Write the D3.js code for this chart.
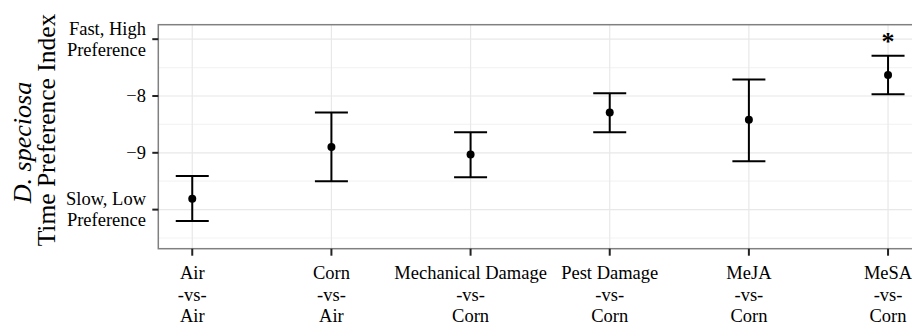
<!DOCTYPE html>
<html>
<head>
<meta charset="utf-8">
<script src="https://cdn.jsdelivr.net/npm/d3@7"></script>
<style>
  body { margin: 0; background: #fff; }
  text { font-family: "Liberation Serif", "Times New Roman", serif; fill: #000; }
</style>
</head>
<body>
<div id="chart"></div>
<script>
// Data
const treatments = ["Air", "Corn", "Mechanical Damage", "Pest Damage", "MeJA", "MeSA"];
const controls   = ["Air", "Air", "Corn", "Corn", "Corn", "Corn"];
const means      = [-9.81, -8.90, -9.03, -8.29, -8.42, -7.63];
const lower      = [-10.20, -9.50, -9.43, -8.64, -9.15, -7.97];
const upper      = [-9.41, -8.29, -8.64, -7.95, -7.71, -7.29];
const significant = [false, false, false, false, false, true];

const yTicks = [-7, -8, -9, -10];
const yTickLabels = [["Fast, High", "Preference"], ["\u22128"], ["\u22129"], ["Slow, Low", "Preference"]];
const yMinor = [-7.5, -8.5, -9.5, -10.5];

const width = 912, height = 327;
const panel = { left: 158.3, top: 24.7, right: 922, bottom: 248.7 };

const data = treatments.map((t, i) => ({
    key: t + "|" + controls[i], top: t, bottom: controls[i],
    mean: means[i], lo: lower[i], hi: upper[i], sig: significant[i]
}));

const svg = d3.select("#chart")
    .append("svg")
    .attr("width", width)
    .attr("height", height);

const x = d3.scalePoint()
    .domain(data.map(d => d.key))
    .range([panel.left, panel.right])
    .padding(0.244);

const y = d3.scaleLinear()
    .domain([-10.688, -6.745])
    .range([panel.bottom, panel.top]);

// Grid lines
const grid = svg.append("g");
grid.selectAll(".minor")
    .data(yMinor)
    .join("line")
    .attr("x1", panel.left).attr("x2", panel.right)
    .attr("y1", d => y(d)).attr("y2", d => y(d))
    .attr("stroke", "#f4f4f4").attr("stroke-width", 1.2);
grid.selectAll(".major")
    .data(yTicks)
    .join("line")
    .attr("x1", panel.left).attr("x2", panel.right)
    .attr("y1", d => y(d)).attr("y2", d => y(d))
    .attr("stroke", "#e8e8e8").attr("stroke-width", 1.2);
grid.selectAll(".vmajor")
    .data(data)
    .join("line")
    .attr("x1", d => x(d.key)).attr("x2", d => x(d.key))
    .attr("y1", panel.top).attr("y2", panel.bottom)
    .attr("stroke", "#e8e8e8").attr("stroke-width", 1.2);

// Error bars
const capHalf = 16.5;
const bars = svg.append("g")
    .selectAll("g")
    .data(data)
    .join("g")
    .attr("stroke", "#000")
    .attr("stroke-width", 2);
bars.append("line")
    .attr("x1", d => x(d.key)).attr("x2", d => x(d.key))
    .attr("y1", d => y(d.lo)).attr("y2", d => y(d.hi));
bars.append("line")
    .attr("x1", d => x(d.key) - capHalf).attr("x2", d => x(d.key) + capHalf)
    .attr("y1", d => y(d.hi)).attr("y2", d => y(d.hi));
bars.append("line")
    .attr("x1", d => x(d.key) - capHalf).attr("x2", d => x(d.key) + capHalf)
    .attr("y1", d => y(d.lo)).attr("y2", d => y(d.lo));

svg.append("g")
    .selectAll("circle")
    .data(data)
    .join("circle")
    .attr("cx", d => x(d.key))
    .attr("cy", d => y(d.mean))
    .attr("r", 4)
    .attr("fill", "#000");

// Significance marker
svg.append("g")
    .selectAll("text")
    .data(data.filter(d => d.sig))
    .join("text")
    .attr("x", d => x(d.key))
    .attr("y", d => y(d.hi) - 6)
    .attr("text-anchor", "middle")
    .attr("font-size", 26)
    .attr("font-weight", "bold")
    .text("*");

// Panel border
svg.append("rect")
    .attr("x", panel.left).attr("y", panel.top)
    .attr("width", panel.right - panel.left)
    .attr("height", panel.bottom - panel.top)
    .attr("fill", "none")
    .attr("stroke", "#808080")
    .attr("stroke-width", 1.5);

// Y axis ticks and labels
const yAxis = svg.append("g");
yAxis.selectAll("line")
    .data(yTicks)
    .join("line")
    .attr("x1", panel.left - 6).attr("x2", panel.left)
    .attr("y1", d => y(d)).attr("y2", d => y(d))
    .attr("stroke", "#222").attr("stroke-width", 2);
yAxis.selectAll("text")
    .data(yTicks)
    .join("text")
    .attr("text-anchor", "end")
    .attr("font-size", 18.5)
    .each(function(d, i) {
        const lines = yTickLabels[i];
        const lh = 21;
        const y0 = y(d) + 6 - (lines.length - 1) * lh / 2;
        lines.forEach((s, j) => {
            d3.select(this).append("tspan")
                .attr("x", 146)
                .attr("y", y0 + j * lh)
                .text(s);
        });
    });

// X axis ticks and labels
const xAxis = svg.append("g");
xAxis.selectAll("line")
    .data(data)
    .join("line")
    .attr("x1", d => x(d.key)).attr("x2", d => x(d.key))
    .attr("y1", panel.bottom).attr("y2", panel.bottom + 7)
    .attr("stroke", "#222").attr("stroke-width", 2);
xAxis.selectAll("text")
    .data(data)
    .join("text")
    .attr("text-anchor", "middle")
    .attr("font-size", 18.5)
    .each(function(d) {
        [d.top, "-vs-", d.bottom].forEach((s, j) => {
            d3.select(this).append("tspan")
                .attr("x", x(d.key))
                .attr("y", 279 + j * 21.5)
                .text(s);
        });
    });

// Axis title (two lines)
svg.append("text")
    .attr("transform", "translate(31,142.5) rotate(-90)")
    .attr("text-anchor", "middle")
    .attr("font-size", 26)
    .attr("font-style", "italic")
    .text("D. speciosa");
svg.append("text")
    .attr("transform", "translate(55,130) rotate(-90)")
    .attr("text-anchor", "middle")
    .attr("font-size", 25.5)
    .text("Time Preference Index");
</script>
</body>
</html>
